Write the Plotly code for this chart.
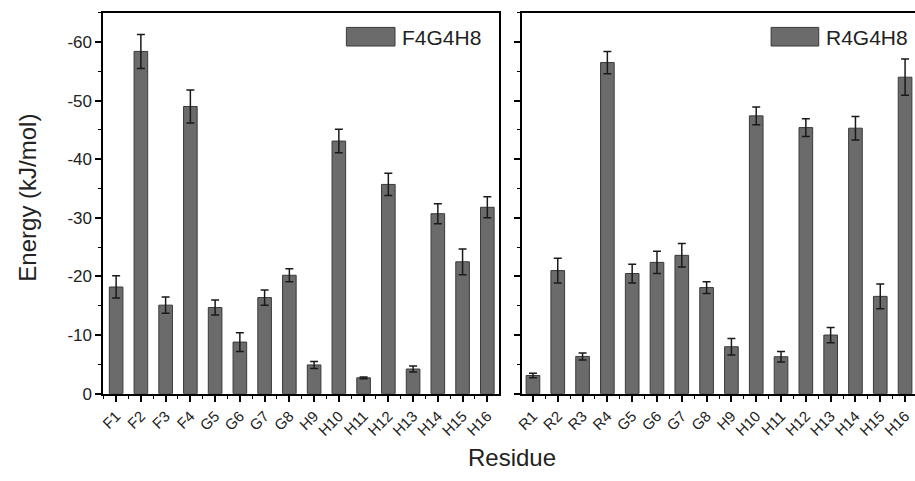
import plotly.graph_objects as go

W, H = 915, 481

residues_f = ["F1", "F2", "F3", "F4", "G5", "G6", "G7", "G8",
              "H9", "H10", "H11", "H12", "H13", "H14", "H15", "H16"]
energy_f = [-18.2, -58.4, -15.1, -49.0, -14.7, -8.8, -16.4, -20.2,
            -4.9, -43.1, -2.7, -35.7, -4.2, -30.7, -22.5, -31.8]
err_f = [1.9, 2.9, 1.4, 2.8, 1.3, 1.6, 1.3, 1.1,
         0.6, 2.0, 0.15, 1.9, 0.5, 1.7, 2.2, 1.8]

residues_r = ["R1", "R2", "R3", "R4", "G5", "G6", "G7", "G8",
              "H9", "H10", "H11", "H12", "H13", "H14", "H15", "H16"]
energy_r = [-3.1, -21.0, -6.35, -56.5, -20.5, -22.4, -23.6, -18.1,
            -8.0, -47.4, -6.3, -45.4, -10.0, -45.3, -16.6, -54.0]
err_r = [0.4, 2.1, 0.6, 1.9, 1.6, 1.9, 2.0, 1.0,
         1.4, 1.5, 0.9, 1.5, 1.3, 2.0, 2.1, 3.1]

y_ticks = [0, -10, -20, -30, -40, -50, -60]
y_ticktext = ["0", "-10", "-20", "-30", "-40", "-50", "-60"]
y_minor = [-5, -15, -25, -35, -45, -55, -65]

BAR = "#6b6b6b"
EDGE = "#3a3a3a"
FONT = "Liberation Sans, Arial, sans-serif"


def px(x):
    return x / W


def py(y):
    return 1 - y / H


pos_f = list(range(1, len(residues_f) + 1))
pos_r = list(range(1, len(residues_r) + 1))

fig = go.Figure()
fig.add_trace(go.Bar(
    x=pos_f, y=energy_f, width=0.55, name="F4G4H8",
    marker=dict(color=BAR, line=dict(color=EDGE, width=1)),
    error_y=dict(type="data", array=err_f, color="#1a1a1a", thickness=1.5, width=4),
    xaxis="x", yaxis="y", showlegend=False))
fig.add_trace(go.Bar(
    x=pos_r, y=energy_r, width=0.55, name="R4G4H8",
    marker=dict(color=BAR, line=dict(color=EDGE, width=1)),
    error_y=dict(type="data", array=err_r, color="#1a1a1a", thickness=1.5, width=4),
    xaxis="x2", yaxis="y2", showlegend=False))

ydom = [py(402), py(13)]
minor_x = [i + 0.5 for i in range(0, 17)]
xcommon = dict(
    showline=True, linecolor="black", linewidth=1.8, mirror=True,
    ticks="outside", ticklen=6, tickwidth=1.5, tickcolor="black",
    tickangle=-45, tickfont=dict(family=FONT, size=15, color="#222"),
    showgrid=False, zeroline=False, tickmode="array",
    minor=dict(tickmode="array", tickvals=minor_x, ticks="outside",
               ticklen=3, tickwidth=1.2, tickcolor="black"),
)
ycommon = dict(
    range=[0, -65], tickmode="array", tickvals=y_ticks,
    ticks="outside", ticklen=6, tickwidth=1.5, tickcolor="black",
    minor=dict(tickmode="array", tickvals=y_minor, ticks="outside",
               ticklen=3, tickwidth=1.2, tickcolor="black"),
    showline=True, linecolor="black", linewidth=1.8,
    showgrid=False, zeroline=False, domain=ydom,
)

fig.update_layout(
    width=W, height=H,
    margin=dict(l=0, r=0, t=0, b=0),
    paper_bgcolor="white", plot_bgcolor="white",
    xaxis=dict(domain=[px(97), px(496)], range=[0.48, 16.48],
               tickvals=pos_f, ticktext=residues_f, anchor="y", **xcommon),
    xaxis2=dict(domain=[px(519), 1.0], range=[0.56, 16.4],
                tickvals=pos_r, ticktext=residues_r, anchor="y2", **xcommon),
    yaxis=dict(anchor="x", ticktext=y_ticktext, mirror=True,
               tickfont=dict(family=FONT, size=17, color="#222"), **ycommon),
    yaxis2=dict(anchor="x2", showticklabels=False, mirror=False, **ycommon),
)

# legend boxes (swatch + label) in each panel
legends = [("F4G4H8", 342, 391, 396), ("R4G4H8", 770, 818, 823)]
for label, x0, x1, tx in legends:
    fig.add_shape(type="rect", xref="paper", yref="paper",
                  x0=px(x0), x1=px(x1), y0=py(47), y1=py(28),
                  fillcolor=BAR, line=dict(color=EDGE, width=1))
    fig.add_annotation(text=label, xref="paper", yref="paper",
                       x=px(tx), y=py(38), xanchor="left", yanchor="middle",
                       showarrow=False, font=dict(family=FONT, size=21, color="#222"))

fig.add_annotation(text="Energy (kJ/mol)", xref="paper", yref="paper",
                   x=px(21), y=py(202), textangle=-90, showarrow=False,
                   xanchor="center", yanchor="middle",
                   font=dict(family=FONT, size=24, color="#222"))
fig.add_annotation(text="Residue", xref="paper", yref="paper",
                   x=px(509), y=py(467), showarrow=False,
                   xanchor="center", yanchor="middle",
                   font=dict(family=FONT, size=24, color="#222"))

fig.write_html(
    "out.html",
    config={"displayModeBar": False},
    post_script="document.body.style.margin='0';document.body.style.overflow='hidden';",
)
